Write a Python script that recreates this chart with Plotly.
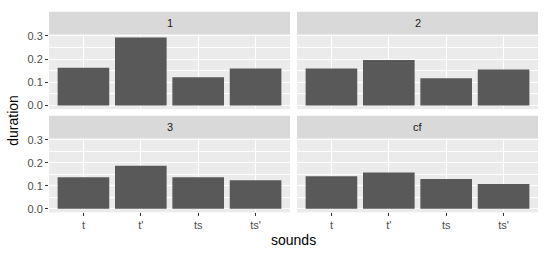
import plotly.graph_objects as go

sounds = ["t", "t'", "ts", "ts'"]
panels = ["1", "2", "3", "cf"]
dur_1 = [0.163, 0.293, 0.122, 0.159]
dur_2 = [0.159, 0.196, 0.117, 0.155]
dur_3 = [0.137, 0.187, 0.137, 0.124]
dur_cf = [0.141, 0.158, 0.129, 0.108]
y_ticks = [0.0, 0.1, 0.2, 0.3]
y_ticklabels = ["0.0", "0.1", "0.2", "0.3"]

W, H = 545, 254
series = [dur_1, dur_2, dur_3, dur_cf]

# pixel geometry
cols = [(49, 290), (297, 538)]
rows = [(30, 107), (137, 213)]
strips = [(7, 30), (114, 137)]

fig = go.Figure()
font_family = "Liberation Sans, Arial, sans-serif"

for i, (name, vals) in enumerate(zip(panels, series)):
    r, c = divmod(i, 2)
    ax = "" if i == 0 else str(i + 1)
    fig.add_trace(go.Bar(x=sounds, y=vals, marker=dict(color="#595959", line=dict(width=0)),
                         xaxis="x" + ax, yaxis="y" + ax, showlegend=False, width=0.9))
    x0, x1 = cols[c]
    y0, y1 = rows[r]
    fig.layout["xaxis" + ax] = dict(
        domain=[x0 / W, x1 / W], anchor="y" + ax, type="category",
        categoryorder="array", categoryarray=sounds, range=[-0.6, 3.6],
        showgrid=True, gridcolor="white", gridwidth=1.1, zeroline=False,
        showticklabels=(r == 1), ticks="outside" if r == 1 else "", ticklen=3,
        tickcolor="#333333", tickfont=dict(size=11, color="#4D4D4D", family=font_family),
        showline=False, fixedrange=True)
    fig.layout["yaxis" + ax] = dict(
        domain=[1 - y1 / H, 1 - y0 / H], anchor="x" + ax, range=[-0.015, 0.307],
        tickvals=y_ticks, ticktext=y_ticklabels,
        showgrid=True, gridcolor="white", gridwidth=1.1, zeroline=False,
        minor=dict(showgrid=True, gridcolor="white", gridwidth=0.5, tickvals=[0.05, 0.15, 0.25]),
        showticklabels=(c == 0), ticks="outside" if c == 0 else "", ticklen=3,
        tickcolor="#333333", tickfont=dict(size=11, color="#4D4D4D", family=font_family),
        showline=False, fixedrange=True)
    # panel background
    fig.add_shape(type="rect", xref="paper", yref="paper", x0=x0 / W, x1=x1 / W,
                  y0=1 - y1 / H, y1=1 - y0 / H, fillcolor="#EBEBEB", line=dict(width=0), layer="below")
    # strip
    s0, s1 = strips[r]
    fig.add_shape(type="rect", xref="paper", yref="paper", x0=x0 / W, x1=x1 / W,
                  y0=1 - s1 / H, y1=1 - s0 / H, fillcolor="#D9D9D9", line=dict(width=0))
    fig.add_annotation(text=name, xref="paper", yref="paper", x=(x0 + x1) / 2 / W,
                       y=1 - (s0 + s1) / 2 / H, showarrow=False,
                       font=dict(size=11, color="#1A1A1A", family=font_family),
                       xanchor="center", yanchor="middle")

fig.add_annotation(text="sounds", xref="paper", yref="paper", x=293.5 / W, y=1 - 242 / H,
                   showarrow=False, font=dict(size=14, color="black", family=font_family),
                   xanchor="center", yanchor="middle")
fig.add_annotation(text="duration", xref="paper", yref="paper", x=13 / W, y=1 - 119 / H,
                   showarrow=False, textangle=-90,
                   font=dict(size=14, color="black", family=font_family),
                   xanchor="center", yanchor="middle")

fig.update_layout(width=W, height=H, margin=dict(l=0, r=0, t=0, b=0),
                  paper_bgcolor="white", plot_bgcolor="#EBEBEB", bargap=0.1,
                  font=dict(family=font_family))
fig.write_html("out.html")
